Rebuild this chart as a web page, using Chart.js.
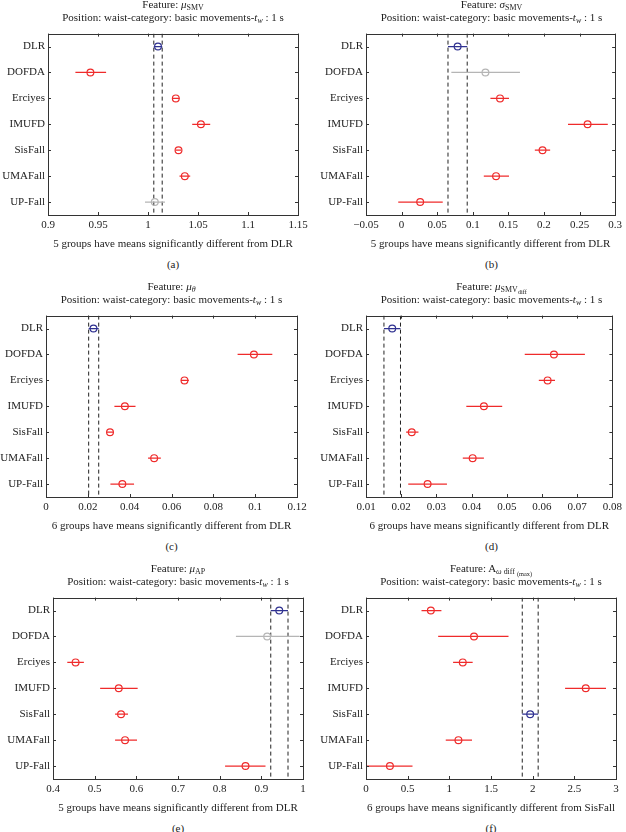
<!DOCTYPE html>
<html>
<head>
<meta charset="utf-8">
<script src="https://cdn.jsdelivr.net/npm/chart.js@4.4.1/dist/chart.umd.min.js"></script>
<style>
  body { margin: 0; background: #fff; width: 626px; height: 832px; position: relative; overflow: hidden;
         font-family: "Liberation Serif", "DejaVu Serif", serif; color: #222; }
  canvas { position: absolute; }
  .title { position: absolute; text-align: center; font-size: 11px; line-height: 13px; white-space: nowrap; }
  .tag { position: absolute; text-align: center; font-size: 11px; line-height: 12px; }
  sub { font-size: 72%; line-height: 0; vertical-align: -0.3em; }
  sub sub { font-size: 80%; }
</style>
</head>
<body>
<script>
// Grupos (mismo orden en los 6 paneles)
const groups = ['DLR', 'DOFDA', 'Erciyes', 'IMUFD', 'SisFall', 'UMAFall', 'UP-Fall'];

// (a) mu SMV
const muSmvMean = [1.010, 0.9424, 1.0278, 1.0529, 1.0305, 1.0368, 1.0068];
const muSmvLow  = [1.0058, 0.9274, 1.0242, 1.0442, 1.0275, 1.0315, 0.997];
const muSmvHigh = [1.0142, 0.9581, 1.0315, 1.0622, 1.0332, 1.0422, 1.017];
const muSmvStatus = ['ref', 'sig', 'sig', 'sig', 'sig', 'sig', 'ns'];
const muSmvTicks = [0.9, 0.95, 1, 1.05, 1.1, 1.15];

// (b) sigma SMV
const sigmaSmvMean = [0.0787, 0.1178, 0.1383, 0.2613, 0.198, 0.1327, 0.0261];
const sigmaSmvLow  = [0.0652, 0.0699, 0.1248, 0.2338, 0.1872, 0.1155, -0.0047];
const sigmaSmvHigh = [0.0922, 0.1663, 0.1509, 0.2897, 0.2087, 0.1509, 0.0578];
const sigmaSmvStatus = ['ref', 'ns', 'sig', 'sig', 'sig', 'sig', 'sig'];
const sigmaSmvTicks = [-0.05, 0, 0.05, 0.1, 0.15, 0.2, 0.25, 0.3];

// (c) mu theta
const muThetaMean = [0.0227, 0.0994, 0.0662, 0.0377, 0.0306, 0.0517, 0.0365];
const muThetaLow  = [0.0204, 0.0916, 0.0645, 0.0327, 0.029, 0.0488, 0.0308];
const muThetaHigh = [0.0252, 0.1082, 0.0683, 0.0428, 0.0322, 0.0549, 0.0421];
const muThetaStatus = ['ref', 'sig', 'sig', 'sig', 'sig', 'sig', 'sig'];
const muThetaTicks = [0, 0.02, 0.04, 0.06, 0.08, 0.1, 0.12];

// (d) mu SMV diff
const muDiffMean = [0.01745, 0.0634, 0.0616, 0.0435, 0.023, 0.0403, 0.0275];
const muDiffLow  = [0.0151, 0.0551, 0.0591, 0.0385, 0.0214, 0.0375, 0.022];
const muDiffHigh = [0.0198, 0.0722, 0.0637, 0.0487, 0.0249, 0.0435, 0.033];
const muDiffStatus = ['ref', 'sig', 'sig', 'sig', 'sig', 'sig', 'sig'];
const muDiffTicks = [0.01, 0.02, 0.03, 0.04, 0.05, 0.06, 0.07, 0.08];

// (e) mu AP
const muApMean = [0.943, 0.914, 0.4542, 0.5578, 0.5633, 0.5729, 0.862];
const muApLow  = [0.9226, 0.839, 0.4343, 0.5131, 0.549, 0.549, 0.813];
const muApHigh = [0.964, 0.992, 0.4741, 0.6032, 0.580, 0.6016, 0.910];
const muApStatus = ['ref', 'ns', 'sig', 'sig', 'sig', 'sig', 'sig'];
const muApTicks = [0.4, 0.5, 0.6, 0.7, 0.8, 0.9, 1];

// (f) A omega diff (max)
const omegaMean = [0.778, 1.296, 1.161, 2.637, 1.97, 1.109, 0.287];
const omegaLow  = [0.666, 0.866, 1.045, 2.389, 1.875, 0.957, 0.008];
const omegaHigh = [0.905, 1.710, 1.280, 2.880, 2.066, 1.272, 0.558];
const omegaStatus = ['sig', 'sig', 'sig', 'sig', 'ref', 'sig', 'sig'];
const omegaTicks = [0, 0.5, 1, 1.5, 2, 2.5, 3];

const positionLine = 'Position: waist-category: basic movements-<i>t<sub>w</sub></i> : 1 s';

const panels = [
  { tag: '(a)', feature: 'Feature: <i>μ</i><sub>SMV</sub>', mean: muSmvMean, low: muSmvLow, high: muSmvHigh,
    status: muSmvStatus, ticks: muSmvTicks, xlabel: '5 groups have means significantly different from DLR' },
  { tag: '(b)', feature: 'Feature: <i>σ</i><sub>SMV</sub>', mean: sigmaSmvMean, low: sigmaSmvLow, high: sigmaSmvHigh,
    status: sigmaSmvStatus, ticks: sigmaSmvTicks, xlabel: '5 groups have means significantly different from DLR' },
  { tag: '(c)', feature: 'Feature: <i>μ<sub>θ</sub></i>', mean: muThetaMean, low: muThetaLow, high: muThetaHigh,
    status: muThetaStatus, ticks: muThetaTicks, xlabel: '6 groups have means significantly different from DLR' },
  { tag: '(d)', feature: 'Feature: <i>μ</i><sub>SMV<sub>diff</sub></sub>', mean: muDiffMean, low: muDiffLow, high: muDiffHigh,
    status: muDiffStatus, ticks: muDiffTicks, xlabel: '6 groups have means significantly different from DLR' },
  { tag: '(e)', feature: 'Feature: <i>μ</i><sub>AP</sub>', mean: muApMean, low: muApLow, high: muApHigh,
    status: muApStatus, ticks: muApTicks, xlabel: '5 groups have means significantly different from DLR' },
  { tag: '(f)', feature: 'Feature: A<sub><i>ω</i> diff <sub>(max)</sub></sub>', mean: omegaMean, low: omegaLow, high: omegaHigh,
    status: omegaStatus, ticks: omegaTicks, xlabel: '6 groups have means significantly different from SisFall' },
];

// Posición de cada área de gráfico en la página (px)
const layoutBoxes = [
  { col: 0,   left: 48,  right: 298, top: 28,  bottom: 215 },
  { col: 313, left: 366, right: 617, top: 28,  bottom: 215 },
  { col: 0,   left: 46,  right: 297, top: 310, bottom: 497 },
  { col: 313, left: 366, right: 617, top: 310, bottom: 497 },
  { col: 0,   left: 53,  right: 303, top: 592, bottom: 779 },
  { col: 313, left: 366, right: 616, top: 592, bottom: 779 },
];

const colors = { ref: '#2f3190', sig: '#ef2b2b', ns: '#b5b5b5' };
const textColor = '#222';
const font = { family: '"Liberation Serif", "DejaVu Serif", serif', size: 11 };
const Y_AXIS_W = 46;
const X_AXIS_H = 40;

// Caja estilo MATLAB con marcas hacia dentro en los cuatro lados
const boxTicks = {
  id: 'boxTicks',
  afterDraw(chart) {
    const { ctx, chartArea: a, scales: { x, y } } = chart;
    ctx.save();
    ctx.strokeStyle = '#333';
    ctx.lineWidth = 1;
    ctx.strokeRect(Math.round(a.left) + 0.5, Math.round(a.top) + 0.5,
                   Math.round(a.right - a.left), Math.round(a.bottom - a.top));
    ctx.beginPath();
    x.ticks.forEach(t => {
      const px = Math.round(x.getPixelForValue(t.value)) + 0.5;
      ctx.moveTo(px, a.bottom); ctx.lineTo(px, a.bottom - 3);
      ctx.moveTo(px, a.top); ctx.lineTo(px, a.top + 3);
    });
    y.ticks.forEach(t => {
      const py = Math.round(y.getPixelForValue(t.value)) + 0.5;
      ctx.moveTo(a.left, py); ctx.lineTo(a.left + 3, py);
      ctx.moveTo(a.right, py); ctx.lineTo(a.right - 3, py);
    });
    ctx.stroke();
    ctx.restore();
  }
};

function fmt(v) {
  return String(Number(v.toFixed(4))).replace('-', '−');
}

function drawPanel(p, box) {
  const cTop = box.top - 4;
  const width = 313;
  const height = box.bottom - cTop + X_AXIS_H;

  const canvas = document.createElement('canvas');
  canvas.width = width;
  canvas.height = height;
  canvas.style.left = box.col + 'px';
  canvas.style.top = cTop + 'px';
  canvas.style.width = width + 'px';
  canvas.style.height = height + 'px';
  document.body.appendChild(canvas);

  const title = document.createElement('div');
  title.className = 'title';
  title.style.left = box.left + 'px';
  title.style.width = (box.right - box.left) + 'px';
  title.style.top = (box.top - 30) + 'px';
  title.innerHTML = p.feature + '<br>' + positionLine;
  document.body.appendChild(title);

  const tag = document.createElement('div');
  tag.className = 'tag';
  tag.style.left = box.left + 'px';
  tag.style.width = (box.right - box.left) + 'px';
  tag.style.top = (box.bottom + 43) + 'px';
  tag.textContent = p.tag;
  document.body.appendChild(tag);

  const datasets = [];
  // intervalos de comparación
  p.mean.forEach((m, i) => {
    datasets.push({
      data: [{ x: p.low[i], y: i + 1 }, { x: p.high[i], y: i + 1 }],
      showLine: true, borderColor: colors[p.status[i]], borderWidth: 1.3, pointRadius: 0
    });
  });
  // medias
  datasets.push({
    data: p.mean.map((m, i) => ({ x: m, y: i + 1 })),
    pointStyle: 'circle', pointRadius: 3.4, borderWidth: 1.2,
    pointBorderColor: p.status.map(s => colors[s]),
    pointBackgroundColor: 'rgba(255,255,255,0)'
  });
  // líneas discontinuas del grupo de referencia
  const r = p.status.indexOf('ref');
  [p.low[r], p.high[r]].forEach(xv => {
    datasets.push({
      data: [{ x: xv, y: 0.5 }, { x: xv, y: 7.5 }],
      showLine: true, borderColor: '#222', borderWidth: 1, borderDash: [4, 3], pointRadius: 0
    });
  });

  new Chart(canvas.getContext('2d'), {
    type: 'scatter',
    data: { datasets },
    options: {
      responsive: false,
      animation: false,
      devicePixelRatio: 1,
      layout: { padding: { left: box.left - box.col - Y_AXIS_W, right: box.col + width - box.right, top: 4, bottom: 0 } },
      plugins: { legend: { display: false }, tooltip: { enabled: false } },
      scales: {
        x: {
          type: 'linear',
          min: p.ticks[0],
          max: p.ticks[p.ticks.length - 1],
          afterBuildTicks: s => { s.ticks = p.ticks.map(v => ({ value: v })); },
          afterFit: s => { s.height = X_AXIS_H; },
          grid: { display: false, drawTicks: false },
          border: { display: false },
          ticks: { font, color: textColor, padding: 4, maxRotation: 0, autoSkip: false, callback: v => fmt(v) },
          title: { display: true, text: p.xlabel, font, color: textColor, padding: { top: 0, bottom: 4 } }
        },
        y: {
          type: 'linear',
          reverse: true,
          min: 0.5,
          max: 7.5,
          afterBuildTicks: s => { s.ticks = groups.map((g, i) => ({ value: i + 1 })); },
          afterFit: s => { s.width = Y_AXIS_W; },
          grid: { display: false, drawTicks: false },
          border: { display: false },
          ticks: { font, color: textColor, padding: 3, autoSkip: false, callback: v => groups[Math.round(v) - 1] }
        }
      }
    },
    plugins: [boxTicks]
  });
}

panels.forEach((p, i) => drawPanel(p, layoutBoxes[i]));
</script>
</body>
</html>
